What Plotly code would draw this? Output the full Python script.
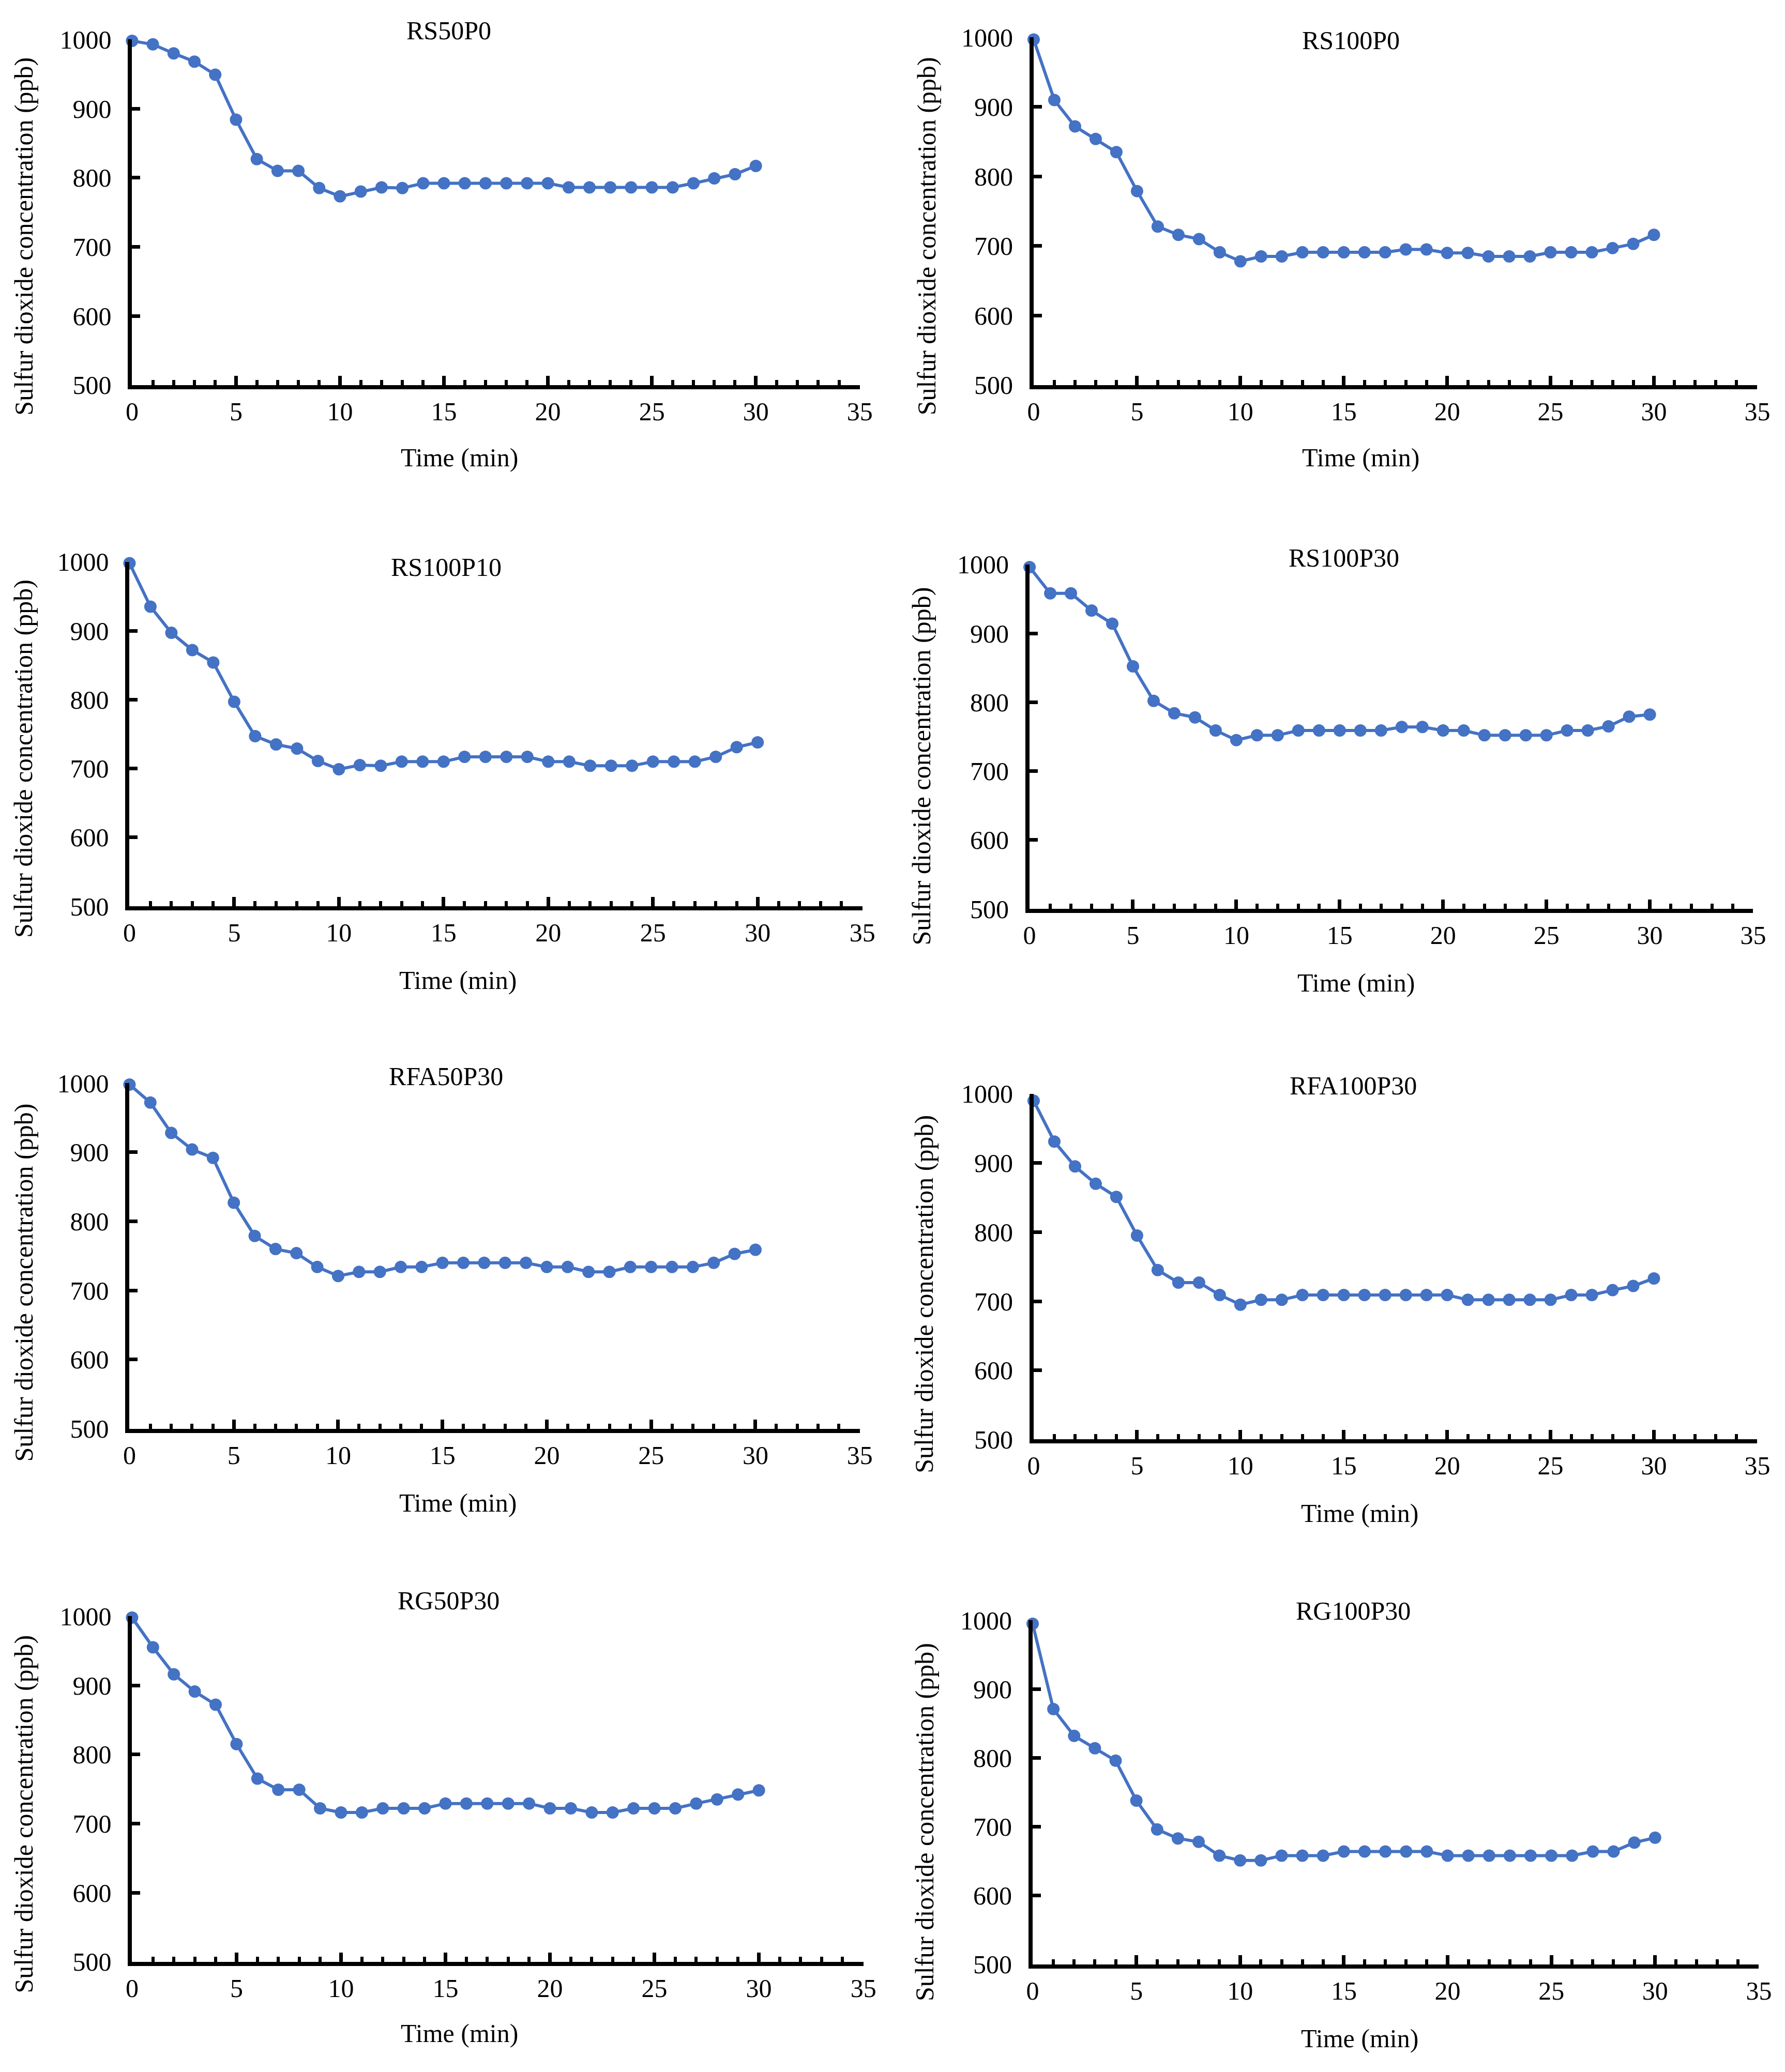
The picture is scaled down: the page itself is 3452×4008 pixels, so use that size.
import plotly.graph_objects as go

# ---------------- data ----------------
time_min = list(range(31))
panel_titles = ["RS50P0", "RS100P0", "RS100P10", "RS100P30",
                "RFA50P30", "RFA100P30", "RG50P30", "RG100P30"]

rs50p0 = [998, 993, 980, 968, 949, 884, 827, 810, 810, 785, 773, 780, 786, 785, 792, 792,
          792, 792, 792, 792, 792, 786, 786, 786, 786, 786, 786, 792, 799, 805, 817]
rs100p0 = [997, 910, 872, 854, 835, 779, 728, 716, 710, 691, 678, 685, 685, 691, 691, 691,
           691, 691, 695, 695, 690, 690, 685, 685, 685, 691, 691, 691, 697, 703, 716]
rs100p10 = [998, 935, 897, 872, 854, 797, 747, 735, 729, 711, 699, 705, 704, 710, 710, 710,
            717, 717, 717, 717, 710, 710, 704, 704, 704, 710, 710, 710, 717, 731, 738]
rs100p30 = [996, 958, 958, 933, 914, 852, 802, 784, 778, 759, 745, 752, 752, 759, 759, 759,
            759, 759, 764, 764, 759, 759, 752, 752, 752, 752, 759, 759, 765, 779, 782]
rfa50p30 = [998, 972, 928, 904, 892, 827, 779, 760, 754, 734, 721, 727, 727, 734, 734, 740,
            740, 740, 740, 740, 734, 734, 727, 727, 734, 734, 734, 734, 740, 753, 759]
rfa100p30 = [990, 931, 895, 870, 851, 795, 745, 727, 727, 709, 695, 702, 702, 709, 709, 709,
             709, 709, 709, 709, 709, 702, 702, 702, 702, 702, 709, 709, 716, 722, 733]
rg50p30 = [998, 955, 916, 891, 872, 815, 765, 749, 749, 722, 716, 716, 722, 722, 722, 729,
           729, 729, 729, 729, 722, 722, 716, 716, 722, 722, 722, 729, 735, 742, 748]
rg100p30 = [995, 871, 832, 814, 796, 738, 696, 683, 678, 658, 651, 651, 658, 658, 658, 664,
            664, 664, 664, 664, 658, 658, 658, 658, 658, 658, 658, 664, 664, 677, 684]

series = [rs50p0, rs100p0, rs100p10, rs100p30, rfa50p30, rfa100p30, rg50p30, rg100p30]

x_range = [0, 35]
y_range = [500, 1000]
x_title = "Time (min)"
y_title = "Sulfur dioxide concentration (ppb)"

# ---------------- layout geometry (pixels) ----------------
W, H = 3452, 4008
# (x_left, x_right, y_top, y_bottom)
geom = [
    (237, 1660, 41, 719),
    (2000, 3415, 37, 719),
    (232, 1665, 1066, 1742),
    (1992, 3407, 1071, 1747),
    (232, 1660, 2089, 2767),
    (2000, 3415, 2110, 2788),
    (237, 1667, 3135, 3813),
    (1998, 3418, 3143, 3818),
]
title_pos = [(856, 23), (2620, 43), (851, 1076), (2607, 1058),
             (851, 2076), (2625, 2094), (856, 3104), (2625, 3124)]
xlab_pos = [(877, 861), (2640, 861), (874, 1887), (2630, 1892),
            (874, 2912), (2638, 2933), (877, 3953), (2638, 3963)]
ylab_pos = [(25, 427), (1791, 427), (25, 1452), (1781, 1467),
            (25, 2480), (1786, 2503), (25, 3523), (1786, 3539)]

FONT = "Liberation Serif, Times New Roman, serif"
FS = 50
BLUE = "#4472C4"

fig = go.Figure()
annotations = []
layout_axes = {}

for i, (vals, ttl) in enumerate(zip(series, panel_titles)):
    k = i + 1
    xa = "x" if k == 1 else f"x{k}"
    ya = "y" if k == 1 else f"y{k}"
    fig.add_trace(go.Scatter(
        x=time_min, y=vals, xaxis=xa, yaxis=ya, mode="lines+markers",
        line=dict(color=BLUE, width=6),
        marker=dict(color=BLUE, size=24),
        cliponaxis=False, showlegend=False))

    xl, xr, yt, yb = geom[i]
    common = dict(showline=True, linecolor="black", linewidth=8,
                  showgrid=False, zeroline=False, ticks="inside",
                  tickcolor="black", tickwidth=7,
                  tickfont=dict(family=FONT, size=FS, color="black"))
    layout_axes["xaxis" if k == 1 else f"xaxis{k}"] = dict(
        common, domain=[xl / W, xr / W], range=x_range, anchor=ya,
        tickmode="linear", tick0=0, dtick=5, ticklen=18,
        ticklabelstandoff=0,
        minor=dict(ticks="inside", dtick=1, ticklen=10, tickwidth=6,
                   tickcolor="black"))
    layout_axes["yaxis" if k == 1 else f"yaxis{k}"] = dict(
        common, domain=[1 - yb / H, 1 - yt / H], range=y_range, anchor=xa,
        tickmode="linear", tick0=500, dtick=100, ticklen=16,
        ticklabelstandoff=22)

    tx, ty = title_pos[i]
    annotations.append(dict(text=ttl, x=tx / W, y=1 - ty / H, xref="paper", yref="paper",
                            xanchor="center", yanchor="middle", showarrow=False,
                            font=dict(family=FONT, size=FS, color="black")))
    lx, ly = xlab_pos[i]
    annotations.append(dict(text=x_title, x=lx / W, y=1 - ly / H, xref="paper", yref="paper",
                            xanchor="center", yanchor="middle", showarrow=False,
                            font=dict(family=FONT, size=FS, color="black")))
    vx, vy = ylab_pos[i]
    annotations.append(dict(text=y_title, x=vx / W, y=1 - vy / H, xref="paper", yref="paper",
                            xanchor="center", yanchor="middle", showarrow=False,
                            textangle=-90,
                            font=dict(family=FONT, size=FS, color="black")))

fig.update_layout(width=W, height=H, margin=dict(l=0, r=0, t=0, b=0),
                  paper_bgcolor="white", plot_bgcolor="white",
                  annotations=annotations, **layout_axes)

fig.write_html("out.html")
